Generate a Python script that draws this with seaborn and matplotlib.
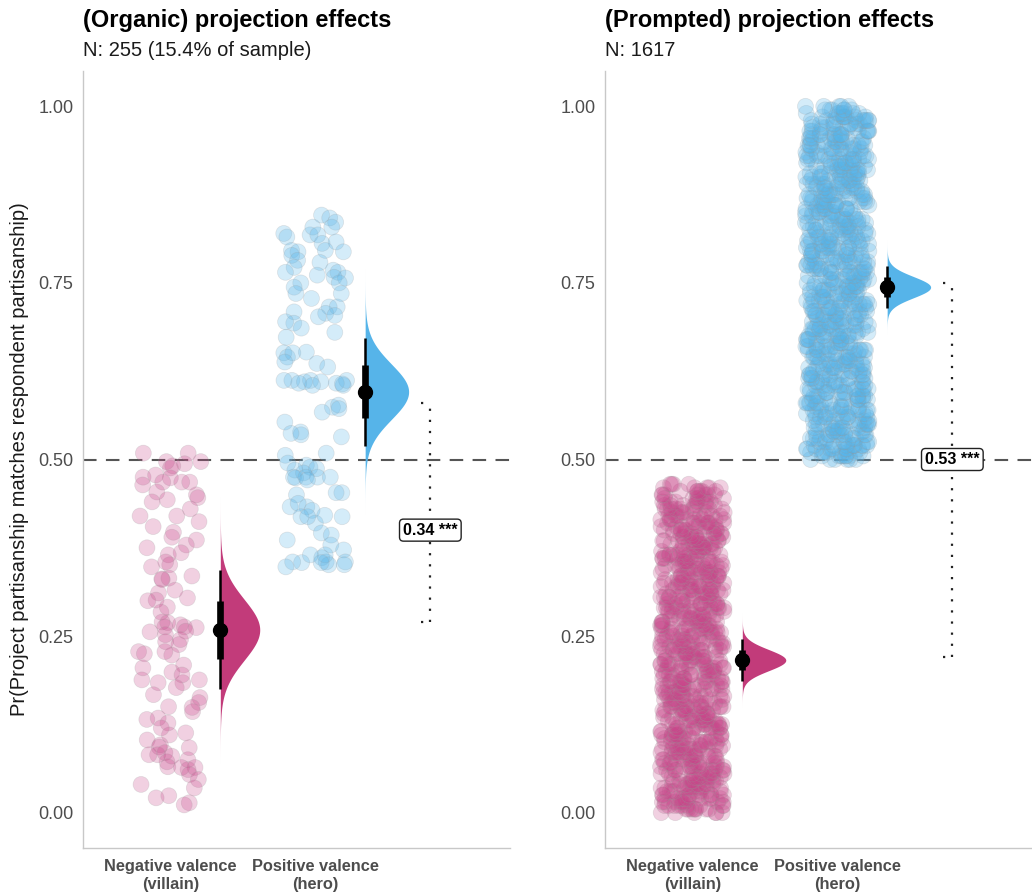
import numpy as np
import pandas as pd
import matplotlib
matplotlib.use("Agg")
import matplotlib.pyplot as plt
import seaborn as sns

# ---------------- data ----------------
categories = ["Negative valence\n(villain)", "Positive valence\n(hero)"]
panel_titles = ["(Organic) projection effects", "(Prompted) projection effects"]
panel_subtitles = ["N: 255 (15.4% of sample)", "N: 1617"]
y_label = "Pr(Project partisanship matches respondent partisanship)"

organic_negative = [0.509, 0.509, 0.497, 0.494, 0.497, 0.491, 0.488, 0.475, 0.478, 0.474,
                    0.468, 0.468, 0.468, 0.464, 0.454, 0.450, 0.440, 0.443, 0.446, 0.420,
                    0.420, 0.412, 0.405, 0.397, 0.386, 0.375, 0.390, 0.379, 0.368, 0.365,
                    0.348, 0.351, 0.330, 0.332, 0.331, 0.335, 0.304, 0.311, 0.315, 0.301,
                    0.291, 0.284, 0.266, 0.270, 0.269, 0.263, 0.263, 0.262, 0.256, 0.257,
                    0.252, 0.242, 0.238, 0.223, 0.228, 0.228, 0.225, 0.209, 0.199, 0.184,
                    0.188, 0.195, 0.188, 0.184, 0.177, 0.167, 0.163, 0.156, 0.143, 0.150,
                    0.149, 0.132, 0.134, 0.127, 0.113, 0.110, 0.103, 0.096, 0.093, 0.082,
                    0.082, 0.085, 0.072, 0.075, 0.092, 0.080, 0.065, 0.061, 0.064, 0.064,
                    0.054, 0.047, 0.040, 0.035, 0.021, 0.024, 0.014, 0.011, 0.300, 0.245,
                    0.205, 0.120, 0.430, 0.355]
organic_positive = [0.846, 0.842, 0.836, 0.829, 0.820, 0.818, 0.829, 0.815, 0.818, 0.806,
                    0.808, 0.794, 0.796, 0.794, 0.796, 0.789, 0.782, 0.779, 0.772, 0.768,
                    0.765, 0.765, 0.761, 0.758, 0.757, 0.750, 0.744, 0.750, 0.735, 0.735,
                    0.728, 0.716, 0.716, 0.709, 0.707, 0.704, 0.702, 0.693, 0.695, 0.686,
                    0.680, 0.673, 0.651, 0.652, 0.645, 0.651, 0.638, 0.636, 0.631, 0.612,
                    0.612, 0.610, 0.610, 0.605, 0.612, 0.608, 0.612, 0.608, 0.607, 0.605,
                    0.574, 0.577, 0.567, 0.572, 0.553, 0.539, 0.535, 0.537, 0.532, 0.506,
                    0.509, 0.495, 0.492, 0.489, 0.485, 0.487, 0.475, 0.481, 0.475, 0.475,
                    0.474, 0.475, 0.471, 0.450, 0.453, 0.453, 0.433, 0.433, 0.438, 0.428,
                    0.419, 0.410, 0.419, 0.419, 0.421, 0.396, 0.393, 0.386, 0.379, 0.372,
                    0.361, 0.354, 0.355, 0.351, 0.365, 0.355, 0.355, 0.351, 0.365, 0.354,
                    0.348]

# prompted panel: number of respondents at each 0.005 level (dense clouds)
prompted_negative_start = 0.0
prompted_negative_counts = [6, 8, 9, 8, 10, 9, 8, 9, 10, 8, 9, 8, 9, 10, 9, 8, 9, 8, 10, 9,
                            8, 9, 9, 8, 10, 9, 8, 9, 8, 9, 10, 8, 9, 9, 8, 9, 10, 9, 8, 9,
                            9, 8, 10, 9, 8, 9, 9, 10, 8, 9, 8, 9, 9, 10, 8, 9, 8, 9, 10, 9,
                            8, 9, 9, 8, 10, 9, 8, 9, 9, 8, 9, 10, 8, 9, 8, 9, 9, 10, 8, 9,
                            8, 9, 8, 9, 8, 7, 8, 7, 8, 6, 7, 6, 5, 4]
prompted_positive_start = 0.5
prompted_positive_counts = [6, 8, 9, 8, 9, 8, 7, 9, 8, 8, 9, 7, 8, 9, 8, 8, 7, 9, 8, 8,
                            9, 8, 7, 8, 9, 8, 8, 9, 7, 8, 8, 9, 8, 7, 8, 9, 8, 8, 9, 8,
                            7, 8, 9, 8, 8, 9, 7, 8, 8, 9, 8, 7, 8, 9, 8, 8, 9, 8, 7, 8,
                            9, 8, 8, 9, 7, 8, 8, 9, 8, 7, 8, 9, 8, 8, 9, 8, 7, 8, 9, 8,
                            8, 9, 7, 8, 8, 9, 8, 7, 8, 9, 8, 8, 9, 8, 7, 8, 9, 8, 7, 6, 5]

# estimated means and standard errors (sampling distributions)
organic_means = [0.259, 0.596]
organic_se = [0.043, 0.039]
prompted_means = [0.216, 0.744]
prompted_se = [0.015, 0.015]

# difference brackets and labels
organic_bracket = [0.27, 0.58]
prompted_bracket = [0.22, 0.75]
diff_labels = ["0.34 ***", "0.53 ***"]
diff_label_y = [0.40, 0.50]

y_ticks = [0.0, 0.25, 0.5, 0.75, 1.0]
y_tick_labels = ["0.00", "0.25", "0.50", "0.75", "1.00"]

# ---------------- styling ----------------
pink = "#C23B7A"
point_pink = "#C8468A"
blue = "#56B4E9"
palette = {categories[0]: point_pink, categories[1]: blue}
grey_txt = "#4D4D4D"
axis_grey = "#C8C8C8"

sns.set_style("white")
plt.rcParams["font.family"] = ["Liberation Sans", "DejaVu Sans"]

fig = plt.figure(figsize=(10.32, 8.94), dpi=100)
W, H = 1032, 894
ax_bottom = 1 - 848 / H
ax_height = (848 - 71) / H
axes = [fig.add_axes([83 / W, ax_bottom, 427 / W, ax_height]),
        fig.add_axes([605 / W, ax_bottom, 427 / W, ax_height])]


def expand(start, counts):
    levels = start + 0.005 * np.arange(len(counts))
    return np.repeat(levels, counts)


panels = [
    dict(neg=np.array(organic_negative), pos=np.array(organic_positive),
         means=organic_means, se=organic_se, bracket=organic_bracket),
    dict(neg=expand(prompted_negative_start, prompted_negative_counts),
         pos=expand(prompted_positive_start, prompted_positive_counts),
         means=prompted_means, se=prompted_se, bracket=prompted_bracket),
]

eye_offset = 0.345
bracket_x = 1.795
tick_x = 1.73
max_eye_w = 0.30

for i, (ax, p) in enumerate(zip(axes, panels)):
    df = pd.DataFrame({
        "valence": [categories[0]] * len(p["neg"]) + [categories[1]] * len(p["pos"]),
        "value": np.concatenate([p["neg"], p["pos"]]),
    })
    np.random.seed(7 + i)
    sns.stripplot(data=df, x="valence", y="value", hue="valence", order=categories,
                  hue_order=categories, palette=palette, jitter=0.22, size=11.5,
                  alpha=0.25, linewidth=0.5, edgecolor="#9a9a9a", legend=False,
                  ax=ax, zorder=2)

    ax.axhline(0.5, color="#555555", lw=1.5, ls=(0, (6.5, 4.5)), zorder=1)

    min_se = min(p["se"])
    for k, (m, s) in enumerate(zip(p["means"], p["se"])):
        xc = k + eye_offset
        yy = np.linspace(m - 4.5 * s, m + 4.5 * s, 300)
        w = max_eye_w * (min_se / s) * np.exp(-0.5 * ((yy - m) / s) ** 2)
        ax.fill_betweenx(yy, xc, xc + w, color=[pink, blue][k], lw=0, zorder=3)
        ax.plot([xc, xc], [m - 1.96 * s, m + 1.96 * s], color="black", lw=1.8,
                solid_capstyle="butt", zorder=4)
        ax.plot([xc, xc], [m - 0.954 * s, m + 0.954 * s], color="black", lw=4.8,
                solid_capstyle="butt", zorder=4)
        ax.plot([xc], [m], "o", color="black", ms=10, zorder=5)

    lo, hi = p["bracket"]
    dot = dict(color="#222222", lw=1.6, ls=(0, (1, 4)), zorder=4)
    ax.plot([bracket_x, bracket_x], [lo, hi], **dot)
    ax.plot([tick_x, bracket_x], [lo, lo], **dot)
    ax.plot([tick_x, bracket_x], [hi, hi], **dot)
    ax.text(bracket_x, diff_label_y[i], diff_labels[i], ha="center", va="center",
            fontsize=11.5, fontweight="bold", color="black", zorder=6,
            bbox=dict(boxstyle="round,pad=0.22,rounding_size=0.25", fc="white",
                      ec="#222222", lw=1.0))

    ax.set_xlim(-0.603, 2.345)
    ax.set_ylim(-0.05, 1.05)
    ax.set_yticks(y_ticks)
    ax.set_yticklabels(y_tick_labels)
    ax.set_xlabel("")
    if i == 0:
        ax.set_ylabel(y_label, fontsize=14.5, color="#1A1A1A")
        ax.yaxis.set_label_coords(-0.127, 0.5)
    else:
        ax.set_ylabel("")
    ax.tick_params(axis="both", length=4, width=0.8, color=axis_grey)
    ax.tick_params(axis="y", labelsize=13, labelcolor=grey_txt, pad=3)
    ax.tick_params(axis="x", labelsize=11.8, labelcolor=grey_txt, pad=4)
    for lab in ax.get_xticklabels():
        lab.set_fontweight("bold")
    for side in ["top", "right"]:
        ax.spines[side].set_visible(False)
    for side in ["left", "bottom"]:
        ax.spines[side].set_color(axis_grey)
        ax.spines[side].set_linewidth(1.0)

    x0 = [83, 605][i] / W
    fig.text(x0, 1 - 27 / H, panel_titles[i], fontsize=17, fontweight="bold",
             color="black", ha="left", va="baseline")
    fig.text(x0, 1 - 56 / H, panel_subtitles[i], fontsize=14.5, color="#1A1A1A",
             ha="left", va="baseline")

fig.savefig("out.png", dpi=100)
